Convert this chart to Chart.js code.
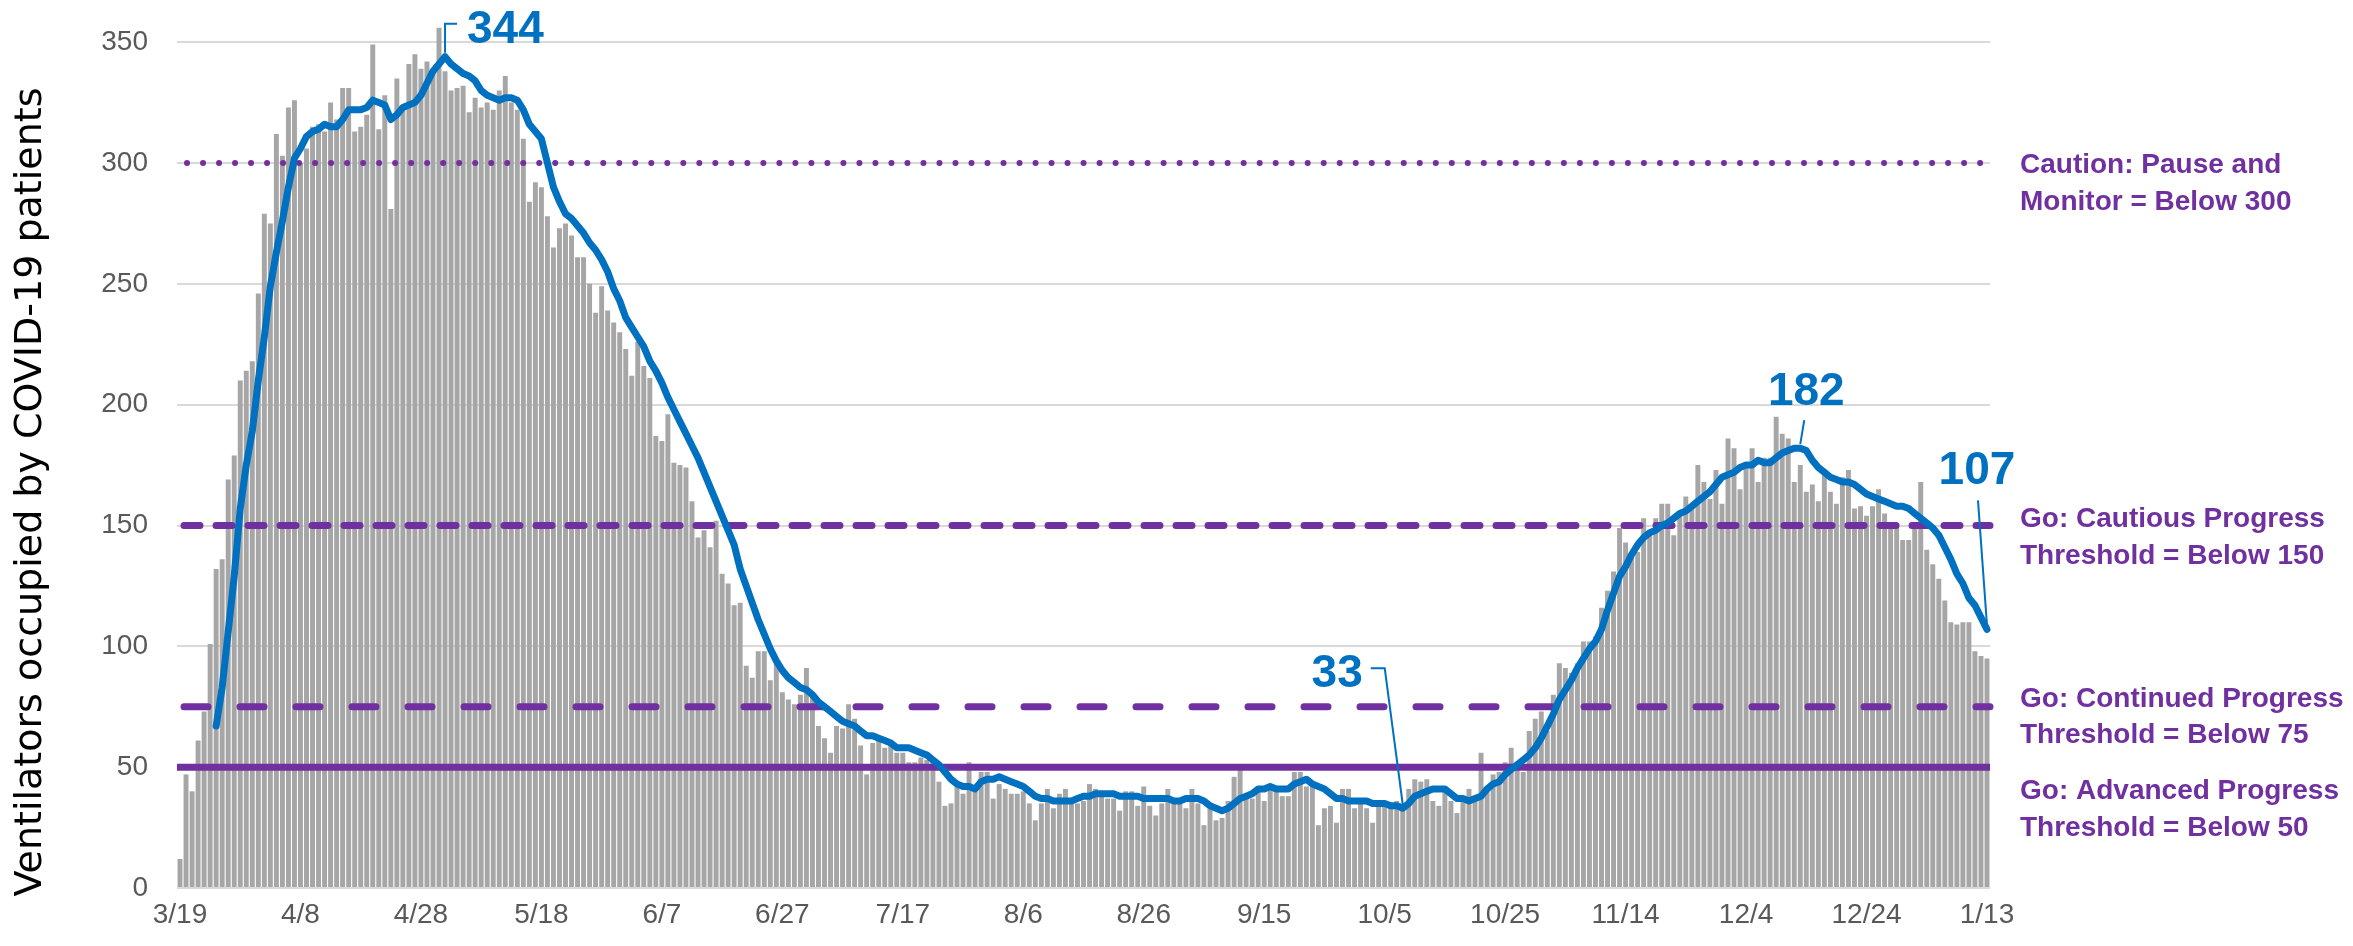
<!DOCTYPE html>
<html>
<head>
<meta charset="utf-8">
<script src="https://cdn.jsdelivr.net/npm/chart.js@4.4.1/dist/chart.umd.min.js"></script>
<style>
  html, body { margin: 0; padding: 0; background: #ffffff; }
  #wrap { width: 2353px; height: 946px; }
</style>
</head>
<body>
<div id="wrap"><canvas id="myChart" width="2353" height="946"></canvas></div>
<script>
// x axis: one category per day, 3/19 to 1/13
const startDay = new Date(2020, 2, 19);
const dayCount = 301;
const tickLabels = ["3/19", "4/8", "4/28", "5/18", "6/7", "6/27", "7/17", "8/6",
    "8/26", "9/15", "10/5", "10/25", "11/14", "12/4", "12/24", "1/13"];

// y axis ticks
const yTicks = [0, 50, 100, 150, 200, 250, 300, 350];

// daily count of ventilators occupied (gray bars)
const dailyVents = [
    12, 47, 40, 61, 73, 101, 132, 136, 169, 179,
    210, 214, 218, 246, 279, 275, 312, 303, 323, 326,
    300, 306, 315, 316, 313, 325, 318, 331, 331, 313,
    315, 320, 349, 314, 328, 281, 335, 322, 341, 345,
    339, 342, 338, 356, 338, 330, 331, 332, 321, 327,
    323, 325, 322, 330, 336, 325, 322, 310, 284, 292,
    290, 278, 265, 273, 275, 270, 261, 261, 250, 238,
    249, 239, 234, 230, 223, 212, 226, 216, 211, 187,
    185, 196, 176, 175, 174, 160, 145, 148, 141, 152,
    130, 126, 117, 118, 92, 87, 98, 98, 86, 93,
    81, 78, 76, 80, 91, 81, 67, 62, 56, 67,
    66, 76, 70, 59, 47, 60, 61, 58, 60, 56,
    56, 52, 52, 54, 53, 53, 44, 34, 35, 42,
    39, 52, 40, 48, 48, 37, 43, 41, 39, 39,
    40, 35, 28, 35, 41, 33, 39, 41, 35, 35,
    36, 43, 41, 40, 37, 37, 32, 40, 40, 34,
    42, 34, 30, 35, 41, 35, 35, 33, 41, 35,
    26, 33, 28, 29, 36, 46, 49, 38, 37, 40,
    36, 42, 42, 38, 38, 48, 48, 42, 42, 26,
    33, 34, 27, 41, 41, 33, 36, 33, 27, 36,
    34, 33, 36, 35, 41, 45, 44, 45, 36, 34,
    42, 36, 31, 38, 41, 38, 56, 41, 47, 48,
    52, 58, 51, 48, 65, 70, 73, 65, 80, 93,
    91, 89, 93, 102, 102, 104, 116, 123, 131, 149,
    143, 139, 139, 153, 148, 153, 159, 159, 146, 156,
    162, 157, 175, 168, 161, 173, 159, 186, 182, 165,
    175, 182, 168, 178, 178, 195, 188, 186, 168, 175,
    164, 167, 160, 171, 164, 159, 170, 173, 157, 158,
    154, 158, 165, 155, 151, 151, 144, 144, 149, 168,
    140, 134, 128, 119, 110, 109, 110, 110, 98, 96,
    95
];

// 7-day average
const avgVents = [
    null, null, null, null, null, null, 67, 83, 106, 129,
    157, 175, 189, 210, 228, 249, 263, 276, 290, 302,
    306, 311, 313, 314, 316, 315, 315, 318, 322, 322,
    322, 323, 326, 325, 324, 318, 320, 323, 324, 325,
    328, 333, 338, 341, 344, 341, 339, 337, 336, 334,
    330, 328, 327, 326, 327, 327, 326, 322, 316, 313,
    310, 300, 290, 284, 279, 277, 274, 271, 267, 264,
    260, 255, 248, 243, 236, 232, 228, 224, 218, 214,
    209, 203, 198, 193, 188, 183, 178, 172, 166, 160,
    154, 148, 142, 132, 125, 118, 111, 105, 99, 94,
    90, 87, 85, 83, 82, 80, 77, 75, 73, 71,
    69, 68, 67, 65, 63, 63, 62, 61, 60, 58,
    58, 58, 57, 56, 55, 53, 51, 48, 45, 43,
    42, 42, 41, 44, 45, 45, 46, 45, 44, 43,
    42, 40, 38, 37, 37, 36, 36, 36, 36, 37,
    38, 38, 39, 39, 39, 39, 38, 38, 38, 38,
    37, 37, 37, 37, 37, 36, 36, 37, 37, 37,
    36, 34, 33, 32, 33, 35, 37, 38, 39, 41,
    41, 42, 41, 41, 41, 43, 44, 45, 43, 42,
    41, 39, 37, 37, 36, 36, 36, 36, 35, 35,
    35, 34, 34, 33, 35, 38, 39, 40, 41, 41,
    41, 39, 37, 37, 36, 37, 38, 41, 43, 44,
    47, 49, 51, 53, 55, 58, 62, 67, 72, 78,
    82, 86, 91, 95, 99, 102, 107, 115, 122, 129,
    133, 138, 142, 145, 147, 148, 150, 151, 153, 155,
    156, 158, 160, 162, 164, 167, 170, 171, 172, 174,
    175, 175, 177, 176, 176, 178, 180, 181, 182, 182,
    181, 177, 174, 172, 170, 169, 168, 168, 167, 165,
    163, 162, 161, 160, 159, 158, 158, 157, 155, 153,
    151, 149, 146, 141, 136, 130, 126, 120, 117, 112,
    107
];

// threshold levels and the text shown next to them
const thresholds = [300, 150, 75, 50];
const thresholdLabels = [
    ["Caution: Pause and", "Monitor = Below 300"],
    ["Go: Cautious Progress", "Threshold = Below 150"],
    ["Go: Continued Progress", "Threshold = Below 75"],
    ["Go: Advanced Progress", "Threshold = Below 50"]
];

// days that get a callout on the average line
const calloutDays = [44, 203, 269, 300];

// build the day labels
const categories = [];
for (let i = 0; i < dayCount; i++) {
    const d = new Date(startDay.getTime());
    d.setDate(startDay.getDate() + i);
    categories.push((d.getMonth() + 1) + "/" + d.getDate());
}

const purple = "#7030A0";
const blue = "#0070C0";

// line look for each threshold (same order as thresholds)
const thresholdLook = [
    { width: 6, dash: [0.01, 16], offset: -4 },
    { width: 7, dash: [16, 16], offset: 0 },
    { width: 7, dash: [24, 32], offset: 0 },
    { width: 7, dash: [], offset: 0 }
];
// baseline y of the two text lines beside each threshold
const labelBaselines = [[173, 210], [527, 564], [707, 743], [799, 836]];

// leader lines and text spots relative to the callout point
const calloutLayout = [
    { path: [[0, -4], [0, -33], [12, -33]], text: [22, -14], align: "left" },
    { path: [[0, -4], [-18, -140], [-32, -140]], text: [-40, -121], align: "right" },
    { path: [[0, -4], [4, -28]], text: [6, -43], align: "center" },
    { path: [[0, -4], [-9, -129]], text: [-10, -145], align: "center" }
];

const thresholdPlugin = {
    id: "thresholdLines",
    afterDatasetDraw(chart, args) {
        // draw right after the bars so the blue line stays on top
        if (args.index !== 0) return;
        const ctx = chart.ctx;
        const area = chart.chartArea;
        const yScale = chart.scales.y;
        thresholds.forEach((level, i) => {
            const look = thresholdLook[i];
            const y = yScale.getPixelForValue(level);
            ctx.save();
            ctx.strokeStyle = purple;
            ctx.lineWidth = look.width;
            ctx.lineCap = look.dash.length ? "round" : "butt";
            ctx.setLineDash(look.dash);
            ctx.lineDashOffset = look.offset - look.width / 2;
            ctx.beginPath();
            ctx.moveTo(area.left + (look.dash.length ? look.width / 2 : 0), y);
            ctx.lineTo(area.right, y);
            ctx.stroke();
            ctx.restore();
        });
    },
    afterDraw(chart) {
        const ctx = chart.ctx;
        const area = chart.chartArea;

        // text next to the threshold lines
        ctx.save();
        ctx.fillStyle = purple;
        ctx.font = "bold 28px 'Liberation Sans', Arial, sans-serif";
        ctx.textAlign = "left";
        ctx.textBaseline = "alphabetic";
        thresholdLabels.forEach((lines, i) => {
            lines.forEach((line, j) => {
                ctx.fillText(line, area.right + 30, labelBaselines[i][j]);
            });
        });
        ctx.restore();

        // callouts on the average line
        const meta = chart.getDatasetMeta(1);
        ctx.save();
        ctx.strokeStyle = blue;
        ctx.fillStyle = blue;
        ctx.lineWidth = 2;
        ctx.font = "bold 46px 'Liberation Sans', Arial, sans-serif";
        ctx.textBaseline = "alphabetic";
        calloutDays.forEach((day, i) => {
            const pt = meta.data[day];
            const lay = calloutLayout[i];
            ctx.beginPath();
            lay.path.forEach((p, k) => {
                if (k === 0) ctx.moveTo(pt.x + p[0], pt.y + p[1]);
                else ctx.lineTo(pt.x + p[0], pt.y + p[1]);
            });
            ctx.stroke();
            ctx.textAlign = lay.align;
            ctx.fillText(String(avgVents[day]), pt.x + lay.text[0], pt.y + lay.text[1]);
        });
        ctx.restore();

        // y axis title
        ctx.save();
        ctx.fillStyle = "#000000";
        ctx.font = "38px 'DejaVu Sans', sans-serif";
        ctx.textAlign = "center";
        ctx.textBaseline = "alphabetic";
        ctx.translate(41, 492);
        ctx.rotate(-Math.PI / 2);
        ctx.fillText("Ventilators occupied by COVID-19 patients", 0, 0);
        ctx.restore();
    }
};

const ctx = document.getElementById("myChart");

const myChart = new Chart(ctx, {
    type: "bar",
    data: {
        labels: categories,
        datasets: [
            {
                label: "Ventilators",
                data: dailyVents,
                backgroundColor: "#A6A6A6",
                barPercentage: 0.82,
                categoryPercentage: 1,
                order: 2
            },
            {
                type: "line",
                label: "7-day average",
                data: avgVents,
                borderColor: blue,
                borderWidth: 7,
                pointRadius: 0,
                tension: 0,
                borderJoinStyle: "round",
                borderCapStyle: "round",
                spanGaps: false,
                order: 1
            }
        ]
    },
    options: {
        responsive: false,
        animation: false,
        devicePixelRatio: 1,
        layout: { padding: { top: 18, right: 363, left: 0, bottom: 0 } },
        plugins: {
            legend: { display: false },
            tooltip: { enabled: false }
        },
        scales: {
            x: {
                grid: { display: false, drawTicks: false },
                border: { display: false },
                afterFit: scale => { scale.height = 58; },
                ticks: {
                    autoSkip: false,
                    maxRotation: 0,
                    minRotation: 0,
                    padding: 10,
                    color: "#595959",
                    font: { family: "'Liberation Sans', Arial, sans-serif", size: 28 },
                    callback: function (val) {
                        const lab = this.getLabelForValue(val);
                        return tickLabels.includes(lab) ? lab : "";
                    }
                }
            },
            y: {
                min: 0,
                max: 360,
                afterBuildTicks: scale => {
                    scale.ticks = yTicks.map(v => ({ value: v }));
                },
                afterFit: scale => {
                    scale.width = 177;
                    // the top tick is not at the edge, so no extra room is needed
                    scale.paddingTop = 0;
                    scale.paddingBottom = 0;
                },
                grid: { color: "#D9D9D9", lineWidth: 2, drawTicks: false },
                border: { display: false },
                ticks: {
                    padding: 29,
                    color: "#595959",
                    font: { family: "'Liberation Sans', Arial, sans-serif", size: 28 }
                }
            }
        }
    },
    plugins: [thresholdPlugin]
});
</script>
</body>
</html>
